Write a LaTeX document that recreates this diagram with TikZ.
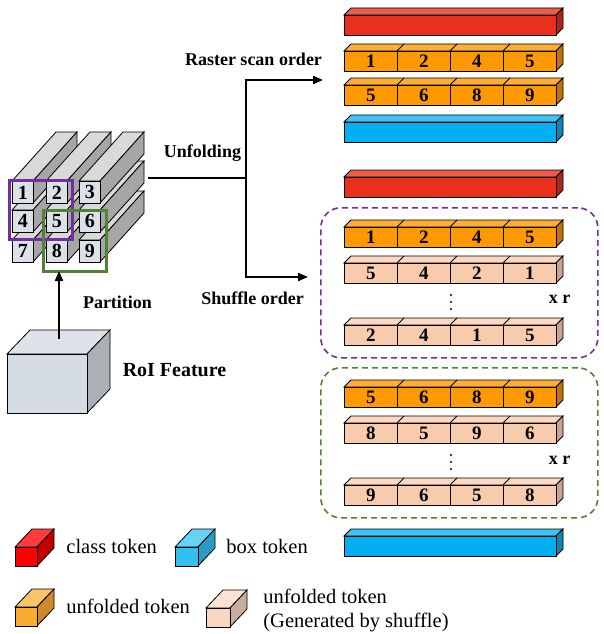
\documentclass[tikz,border=0pt]{standalone}
\usepackage{fontspec}
\setmainfont{Liberation Serif}
\usetikzlibrary{arrows.meta}
\definecolor{redfront}{HTML}{E8301C}\definecolor{redtop}{HTML}{EF5B4B}\definecolor{redside}{HTML}{B02519}
\definecolor{orfront}{HTML}{FF9900}\definecolor{ortop}{HTML}{FFAD33}\definecolor{orside}{HTML}{C27400}
\definecolor{pefront}{HTML}{F8CBAD}\definecolor{petop}{HTML}{FAD8C2}\definecolor{peside}{HTML}{C9A38C}
\definecolor{blfront}{HTML}{00B0F0}\definecolor{bltop}{HTML}{3CC4F4}\definecolor{blside}{HTML}{0A86B8}
\definecolor{lrfront}{HTML}{FF0000}\definecolor{lrtop}{HTML}{FF3B3B}\definecolor{lrside}{HTML}{C00000}
\definecolor{lbfront}{HTML}{33C0F0}\definecolor{lbtop}{HTML}{66D2F6}\definecolor{lbside}{HTML}{2B9AC8}
\definecolor{lofront}{HTML}{FBAC30}\definecolor{lotop}{HTML}{FCC46A}\definecolor{loside}{HTML}{CC8A2A}
\definecolor{lpfront}{HTML}{F9D6C0}\definecolor{lptop}{HTML}{FBE2D2}\definecolor{lpside}{HTML}{C9AE9E}
\definecolor{gfront}{HTML}{DCE1E8}\definecolor{gtop}{HTML}{D9D9D9}\definecolor{gside}{HTML}{A6A6A6}
\definecolor{roifront}{HTML}{D6DCE4}\definecolor{roitop}{HTML}{DEE3EA}\definecolor{roiside}{HTML}{ABAFB6}
\definecolor{mypurple}{HTML}{7030A0}\definecolor{mygreen}{HTML}{548235}

\tikzset{
  tcell/.style={draw=black, anchor=north west, minimum width=53pt, minimum height=20pt, inner sep=0pt,
    font=\fontsize{19}{19}\selectfont\bfseries},
  barnode/.style={draw=black, anchor=north west, minimum width=212pt, minimum height=20pt, inner sep=0pt},
  gcell/.style={draw=black, fill=gfront, anchor=north west, minimum width=21pt, minimum height=22pt, inner sep=0pt,
    font=\fontsize{20}{20}\selectfont\bfseries},
  lbl/.style={font=\fontsize{18}{18}\selectfont\bfseries, inner sep=0pt},
  legtxt/.style={font=\fontsize{20.5}{21}\selectfont, inner sep=0pt, anchor=base west},
  conn/.style={line width=2pt, draw=black},
  arr/.style={-{Triangle[length=10pt,width=8pt]}},
  dashbox/.style={draw, line width=1.6pt, dash pattern=on 6pt off 4pt, rounded corners=20pt,
    anchor=north west, minimum width=277pt, minimum height=150pt, inner sep=0pt},
  dotnode/.style={circle, fill=black, inner sep=0pt, minimum size=2.4pt}
}

% token row: name, y, colour prefix, four digits
\newcommand\tokrow[7]{%
  \filldraw[fill=#3top] (344,#2) -- (556,#2) -- (563,{#2-7}) -- (351,{#2-7}) -- cycle;
  \filldraw[fill=#3side] (556,#2) -- (556,{#2+20}) -- (563,{#2+13}) -- (563,{#2-7}) -- cycle;
  \foreach \i in {1,2,3} \draw ({344+53*\i},#2) -- ++(7,-7);
  \node[tcell,fill=#3front] (#1-1) at (344,#2) {#4};
  \node[tcell,fill=#3front] (#1-2) at (397,#2) {#5};
  \node[tcell,fill=#3front] (#1-3) at (450,#2) {#6};
  \node[tcell,fill=#3front] (#1-4) at (503,#2) {#7};
}
% plain bar: name, y, colour prefix
\newcommand\plainbar[3]{%
  \filldraw[fill=#3top] (344,#2) -- (556,#2) -- (563,{#2-7}) -- (351,{#2-7}) -- cycle;
  \filldraw[fill=#3side] (556,#2) -- (556,{#2+20}) -- (563,{#2+13}) -- (563,{#2-7}) -- cycle;
  \node[barnode,fill=#3front] (#1) at (344,#2) {};
}
% grid prism: name, x0, y0, label
\newcommand\gprism[4]{%
  \filldraw[fill=gtop] (#2,#3) -- ({#2+21},#3) -- ({#2+65},{#3-49}) -- ({#2+44},{#3-49}) -- cycle;
  \filldraw[fill=gside] ({#2+21},#3) -- ({#2+21},{#3+22}) -- ({#2+65},{#3-27}) -- ({#2+65},{#3-49}) -- cycle;
  \node[gcell] (#1) at (#2,#3) {#4};
}
% legend cube: name, x0, y0, colour prefix, width
\newcommand\lcube[5]{%
  \filldraw[fill=#4top] (#2,#3) -- ({#2+#5},#3) -- ({#2+#5+17},{#3-18}) -- ({#2+17},{#3-18}) -- cycle;
  \filldraw[fill=#4side] ({#2+#5},#3) -- ({#2+#5},{#3+19}) -- ({#2+#5+17},{#3+1}) -- ({#2+#5+17},{#3-18}) -- cycle;
  \node[draw=black, fill=#4front, anchor=north west, minimum width=#5pt, minimum height=19pt, inner sep=0pt] (#1) at (#2,#3) {};
}

\begin{document}
\begin{tikzpicture}[x=1pt,y=-1pt,line width=0.8pt,line join=miter]
\useasboundingbox (0,0) rectangle (603,634);

% ---------- partition grid ----------
\gprism{g7}{12}{240}{7}
\gprism{g8}{46}{240}{8}
\gprism{g9}{79}{240}{9}
\gprism{g4}{12}{210}{4}
\gprism{g5}{46}{210}{5}
\gprism{g6}{79}{210}{6}
\gprism{g1}{12}{181}{1}
\gprism{g2}{46}{181}{2}
\gprism{g3}{79}{181}{3}
\node[draw=mypurple, line width=2.5pt, anchor=north west, minimum width=63pt, minimum height=59pt, inner sep=0pt] (pwin) at (8,179) {};
\node[draw=mygreen, line width=2.5pt, anchor=north west, minimum width=63pt, minimum height=61pt, inner sep=0pt] (gwin) at (42,209) {};

% ---------- RoI feature cube ----------
\filldraw[fill=roitop] (7,354) -- (87,354) -- (110,330) -- (30,330) -- cycle;
\filldraw[fill=roiside] (87,354) -- (87,413) -- (110,389) -- (110,330) -- cycle;
\node[draw=black, fill=roifront, anchor=north west, minimum width=80pt, minimum height=59pt, inner sep=0pt] (roi) at (7,354) {};
\node[lbl, font=\fontsize{20}{20}\selectfont\bfseries] (roilbl) at (174.5,370) {RoI Feature};

% ---------- connectors ----------
\coordinate (roiTop) at (59,339);
\coordinate (gridBot) at (59,271);
\draw[conn,arr] (roiTop) -- (gridBot);
\node[lbl] (partlbl) at (117.5,302) {Partition};

\coordinate (blockR) at (148,178);
\coordinate (split) at (246,178);
\coordinate (rasterT) at (323,80);
\coordinate (shufT) at (308,277);
\draw[conn] (blockR) -- (split);
\draw[conn,arr] (split) |- (rasterT);
\draw[conn,arr] (split) |- (shufT);
\node[lbl] (unflbl) at (202.5,153) {Unfolding};
\node[lbl] (rasterlbl) at (253.5,59) {Raster scan order};
\node[lbl] (shuflbl) at (252.5,298) {Shuffle order};

% ---------- raster scan tokens ----------
\plainbar{cls1}{15}{red}
\tokrow{ra}{51}{or}{1}{2}{4}{5}
\tokrow{rb}{85}{or}{5}{6}{8}{9}
\plainbar{box1}{122}{bl}

% ---------- shuffle tokens ----------
\plainbar{cls2}{177}{red}
\node[dashbox, draw=mypurple] (pbox) at (320,207) {};
\tokrow{pa}{227}{or}{1}{2}{4}{5}
\tokrow{pb}{263}{pe}{5}{4}{2}{1}
\node[dotnode] (pd1) at (451,295) {};
\node[dotnode] (pd2) at (451,302) {};
\node[dotnode] (pd3) at (451,309) {};
\node[lbl] (pxr) at (559.5,299) {x r};
\tokrow{pc}{325}{pe}{2}{4}{1}{5}

\node[dashbox, draw=mygreen] (gbox) at (320,367) {};
\tokrow{ga}{387}{or}{5}{6}{8}{9}
\tokrow{gb}{423}{pe}{8}{5}{9}{6}
\node[dotnode] (gd1) at (451,455) {};
\node[dotnode] (gd2) at (451,462) {};
\node[dotnode] (gd3) at (451,469) {};
\node[lbl] (gxr) at (559.5,460) {x r};
\tokrow{gc}{485}{pe}{9}{6}{5}{8}

\plainbar{box2}{536}{bl}

% ---------- legend ----------
\lcube{lred}{15}{547}{lr}{22}
\node[legtxt] (lredt) at (66,553) {class token};
\lcube{lblue}{175}{547}{lb}{23}
\node[legtxt] (lbluet) at (226,553) {box token};
\lcube{lor}{15}{607}{lo}{22}
\node[legtxt] (lort) at (66,613) {unfolded token};
\lcube{lpe}{206}{608}{lp}{24}
\node[legtxt] (lpet1) at (263,603) {unfolded token};
\node[legtxt] (lpet2) at (263,627) {(Generated by shuffle)};
\end{tikzpicture}
\end{document}
